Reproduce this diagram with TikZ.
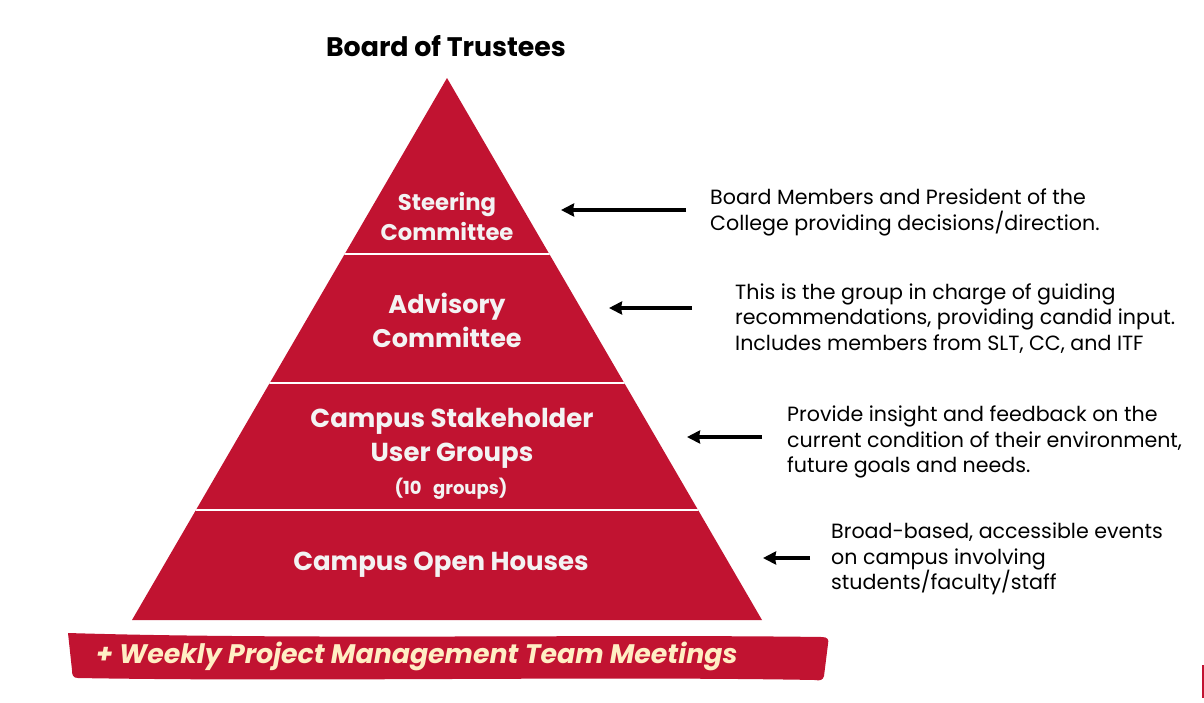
\documentclass[tikz,border=0pt]{standalone}
\usepackage{fontspec}
\setmainfont{Poppins}
\usetikzlibrary{arrows.meta}
\definecolor{pyrred}{HTML}{C11331}
\definecolor{cream}{HTML}{FFEEC4}
\definecolor{offwhite}{HTML}{F3F3F3}
\tikzset{
  tiertext/.style={text=offwhite, font=\bfseries, align=center, inner sep=0pt},
  desc/.style={font=\fontsize{20.6}{25.5}\selectfont, align=left, anchor=west, inner sep=0pt, text=black},
  pointer/.style={line width=4pt, -{Stealth[length=13pt,width=13pt,inset=1pt]}},
}
\begin{document}
\begin{tikzpicture}[x=1pt,y=-1pt]
\useasboundingbox (0,0) rectangle (1204,702);
% title
\node[font=\fontsize{26.8}{30}\selectfont\bfseries, inner sep=0pt] (board) at (446,46) {Board of Trustees};
% pyramid
\fill[pyrred] (447,78) -- (762,620) -- (132,620) -- cycle;
\begin{scope}
\clip (447,78) -- (762,620) -- (132,620) -- cycle;
\draw[white, line width=2.5pt] (100,254) -- (800,254);
\draw[white, line width=2.5pt] (100,383) -- (800,383);
\draw[white, line width=2.5pt] (100,510) -- (800,510);
\end{scope}
\node[tiertext, font=\fontsize{22.7}{30}\selectfont\bfseries] (steer) at (447,216) {Steering\\Committee};
\node[tiertext, font=\fontsize{25.5}{34}\selectfont\bfseries] (advis) at (447,320) {Advisory\\Committee};
\node[tiertext, font=\fontsize{26}{34}\selectfont\bfseries] (users) at (452,438) {Campus Stakeholder\\User Groups};
\node[tiertext, font=\fontsize{18}{20}\selectfont\bfseries] (ten) at (451,489) {(10\ \ \ groups)};
\node[tiertext, font=\fontsize{26}{34}\selectfont\bfseries] (open) at (441,565) {Campus Open Houses};
% banner
\fill[pyrred] (68,633) .. controls (300,640) and (600,634) .. (822,637)
  .. controls (828,637) and (829,640) .. (828,644)
  -- (824,676) .. controls (823,680) and (820,681) .. (815,680)
  .. controls (600,676) and (300,682) .. (78,678)
  .. controls (73,678) and (72,675) .. (72,670) -- cycle;
\node[font=\fontsize{26.8}{30}\selectfont\bfseries\itshape, text=cream, inner sep=0pt, anchor=west] (weekly) at (96,656) {+ Weekly Project Management Team Meetings};
% descriptions
\node[desc] (d1) at (710,212.5) {Board Members and President of the\\College providing decisions/direction.};
\node[desc] (d2) at (735,318.5) {This is the group in charge of guiding\\recommendations, providing candid input.\\Includes members from SLT, CC, and ITF};
\node[desc] (d3) at (787,442) {Provide insight and feedback on the\\current condition of their environment,\\future goals and needs.};
\node[desc] (d4) at (831,559) {Broad-based, accessible events\\on campus involving\\students/faculty/staff};
% arrows
\coordinate (a1s) at (686,210); \coordinate (a1e) at (561,210);
\coordinate (a2s) at (692,308); \coordinate (a2e) at (609,308);
\coordinate (a3s) at (762,437); \coordinate (a3e) at (687,437);
\coordinate (a4s) at (810,558); \coordinate (a4e) at (763,558);
\draw[pointer] (a1s) -- (a1e);
\draw[pointer] (a2s) -- (a2e);
\draw[pointer] (a3s) -- (a3e);
\draw[pointer] (a4s) -- (a4e);
% edge mark
\draw[pyrred, line width=1.5pt] (1203,665) -- (1203,698);
\end{tikzpicture}
\end{document}
